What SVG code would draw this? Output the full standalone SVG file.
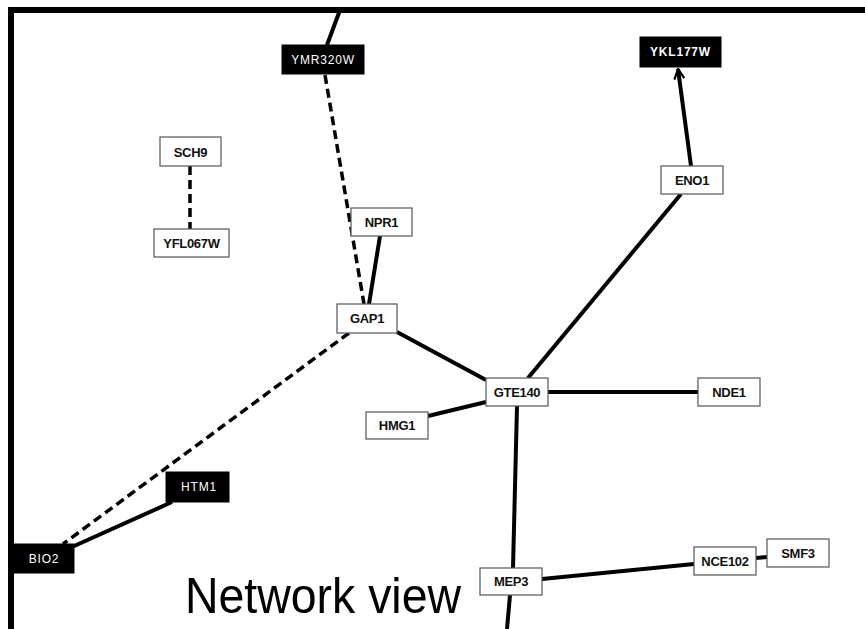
<svg xmlns="http://www.w3.org/2000/svg" width="865" height="629" viewBox="0 0 865 629">
  <style>
    .frame { fill: none; stroke: #000; stroke-width: 6; }
    .edge { stroke: #000; stroke-width: 4; fill: none; stroke-linecap: butt; }
    .dash { stroke: #000; stroke-width: 3.5; fill: none; stroke-dasharray: 9 5; }
    .box { fill: #fff; stroke: #555; stroke-width: 1.2; }
    .dark { fill: #000; stroke: #000; stroke-width: 1; }
    .lbl { font-family: "Liberation Sans", Arial, sans-serif; font-size: 13px; font-weight: bold; fill: #111; text-anchor: middle; dominant-baseline: central; letter-spacing: -0.3px; }
    .lbl-w { font-family: "Liberation Sans", Arial, sans-serif; font-size: 12px; fill: #fff; text-anchor: middle; dominant-baseline: central; letter-spacing: 0.8px; }
    .title { font-family: "Liberation Sans", Arial, sans-serif; font-size: 50px; fill: #000; }
  </style>
  <defs>
    <marker id="arrow" viewBox="0 0 12 12" refX="11" refY="6" markerWidth="12" markerHeight="12" markerUnits="userSpaceOnUse" orient="auto">
      <path d="M1,1 L11,6 L1,11" fill="none" stroke="#000" stroke-width="2.2"/>
    </marker>
  </defs>

  <rect width="865" height="629" fill="#fff"/>

  <!-- outer frame: top and left edges -->
  <path class="frame" d="M11,629 L11,10 L865,10"/>

  <g id="connectors">
    <line class="edge" x1="340" y1="10" x2="327" y2="45"/>
    <line class="dash" x1="325" y1="75" x2="364" y2="304"/>
    <line class="edge" x1="380" y1="236" x2="369" y2="304"/>
    <line class="dash" x1="190" y1="166" x2="190" y2="229"/>
    <line class="dash" x1="349" y1="333" x2="63" y2="544"/>
    <line class="edge" x1="172" y1="502" x2="72" y2="547"/>
    <line class="edge" x1="397" y1="332" x2="486" y2="380"/>
    <line class="edge" x1="428" y1="416" x2="486" y2="402"/>
    <line class="edge" x1="528" y1="378" x2="681" y2="194"/>
    <line class="edge" x1="691" y1="166" x2="678" y2="69" stroke-width="3" marker-end="url(#arrow)"/>
    <line class="edge" x1="548" y1="392" x2="698" y2="392"/>
    <line class="edge" x1="517" y1="406" x2="513" y2="568"/>
    <line class="edge" x1="542" y1="579" x2="694" y2="564"/>
    <line class="edge" x1="756" y1="558" x2="767" y2="557"/>
    <line class="edge" x1="510" y1="595" x2="507" y2="629"/>
  </g>

  <g id="YMR320W"><rect class="dark" x="282" y="45" width="82" height="29"/><text class="lbl-w" x="323" y="60">YMR320W</text></g>
  <g id="SCH9"><rect class="box" x="160" y="137" width="61" height="29"/><text class="lbl" x="190.5" y="152">SCH9</text></g>
  <g id="YFL067W"><rect class="box" x="154" y="229" width="75" height="28"/><text class="lbl" x="191.5" y="243">YFL067W</text></g>
  <g id="NPR1"><rect class="box" x="351" y="208" width="61" height="28"/><text class="lbl" x="381.5" y="222">NPR1</text></g>
  <g id="GAP1"><rect class="box" x="337" y="304" width="60" height="29"/><text class="lbl" x="367" y="318.5">GAP1</text></g>
  <g id="YKL177W"><rect class="dark" x="640" y="37" width="81" height="30"/><text class="lbl-w" x="680.5" y="52" font-weight="bold">YKL177W</text></g>
  <g id="ENO1"><rect class="box" x="661" y="166" width="62" height="28"/><text class="lbl" x="692" y="180">ENO1</text></g>
  <g id="HMG1"><rect class="box" x="366" y="412" width="62" height="27"/><text class="lbl" x="397" y="425.5">HMG1</text></g>
  <g id="HTM1"><rect class="dark" x="166" y="472" width="63" height="30"/><text class="lbl-w" x="199" y="487">HTM1</text></g>
  <g id="BIO2"><rect class="dark" x="10" y="544" width="64" height="29"/><text class="lbl-w" x="44" y="558.5">BIO2</text></g>
  <g id="GTE140"><rect class="box" x="486" y="378" width="62" height="28"/><text class="lbl" x="517" y="392">GTE140</text></g>
  <g id="NDE1"><rect class="box" x="698" y="378" width="62" height="28"/><text class="lbl" x="729" y="392">NDE1</text></g>
  <g id="MEP3"><rect class="box" x="480" y="568" width="62" height="27"/><text class="lbl" x="511" y="581.5">MEP3</text></g>
  <g id="NCE102"><rect class="box" x="694" y="547" width="62" height="28"/><text class="lbl" x="725" y="561">NCE102</text></g>
  <g id="SMF3"><rect class="box" x="767" y="539" width="62" height="28"/><text class="lbl" x="798" y="553">SMF3</text></g>

  <text class="title" x="185" y="613" textLength="276" lengthAdjust="spacingAndGlyphs">Network view</text>
</svg>
